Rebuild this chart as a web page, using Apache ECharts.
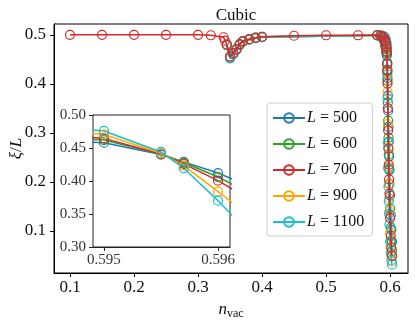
<!DOCTYPE html>
<html>
<head>
<meta charset="utf-8">
<script src="https://cdn.jsdelivr.net/npm/echarts@6/dist/echarts.min.js"></script>
<style>
  html, body { margin: 0; padding: 0; background: #fff; }
  #chart { width: 415px; height: 320px; }
</style>
</head>
<body>
<div id="chart"></div>
<script>
// system sizes and colours
var sizes = [500, 600, 700, 900, 1100];
var colors = ['#1f77b4', '#2ca02c', '#d62728', '#ffa500', '#17becf'];

// wide scan, only L = 700
var nWide = [0.10, 0.15, 0.20, 0.25, 0.30, 0.32, 0.34, 0.342];
var yWide700 = [0.500, 0.500, 0.500, 0.500, 0.500, 0.499, 0.495, 0.488];

// dip around n = 0.35
var nDip = [0.345, 0.35, 0.355, 0.36, 0.365, 0.37, 0.38, 0.39, 0.40];
var yDip500 = [0.479, 0.452, 0.460, 0.469, 0.479, 0.486, 0.490, 0.493, 0.495];
var yDip600 = [0.480, 0.454, 0.462, 0.471, 0.480, 0.487, 0.491, 0.494, 0.496];
var yDip700 = [0.480, 0.456, 0.463, 0.471, 0.481, 0.487, 0.491, 0.494, 0.496];
var yDip900 = [0.480, 0.455, 0.462, 0.470, 0.480, 0.486, 0.490, 0.493, 0.495];
var yDip1100 = [0.479, 0.453, 0.461, 0.470, 0.480, 0.486, 0.490, 0.493, 0.495];

// plateau, only L = 700
var nFlat = [0.45, 0.50, 0.55];
var yFlat700 = [0.498, 0.499, 0.499];

// transition region
var nCrit = [0.580, 0.585, 0.588, 0.590, 0.592, 0.593, 0.594, 0.5945, 0.595, 0.5955, 0.5957,
             0.596, 0.5965, 0.597, 0.5975, 0.598, 0.5985, 0.599, 0.600, 0.601, 0.602, 0.603];
var yCrit500 = [0.499, 0.497, 0.494, 0.489, 0.480, 0.474, 0.466, 0.462, 0.458, 0.440, 0.429,
                0.412, 0.376, 0.345, 0.312, 0.282, 0.252, 0.224, 0.172, 0.132, 0.102, 0.078];
var yCrit600 = [0.499, 0.498, 0.496, 0.492, 0.486, 0.481, 0.473, 0.467, 0.462, 0.441, 0.428,
                0.406, 0.362, 0.325, 0.290, 0.256, 0.226, 0.196, 0.146, 0.106, 0.079, 0.059];
var yCrit700 = [0.499, 0.498, 0.497, 0.494, 0.489, 0.485, 0.477, 0.471, 0.4646, 0.441, 0.426,
                0.4005, 0.350, 0.305, 0.268, 0.235, 0.205, 0.176, 0.126, 0.090, 0.066, 0.049];
var yCrit900 = [0.499, 0.499, 0.498, 0.496, 0.492, 0.489, 0.483, 0.478, 0.4707, 0.442, 0.4232,
                0.3838, 0.318, 0.270, 0.231, 0.196, 0.166, 0.140, 0.096, 0.067, 0.049, 0.037];
var yCrit1100 = [0.499, 0.499, 0.498, 0.497, 0.495, 0.492, 0.487, 0.483, 0.4758, 0.444, 0.4192,
                 0.3702, 0.280, 0.228, 0.190, 0.160, 0.135, 0.113, 0.078, 0.055, 0.040, 0.031];

// tick labels
var mainXTicks = [0.1, 0.2, 0.3, 0.4, 0.5, 0.6];
var mainYTicks = [0.1, 0.2, 0.3, 0.4, 0.5];
var insetXTicks = [0.595, 0.596];
var insetYTicks = [0.30, 0.35, 0.40, 0.45, 0.50];

function pairs(xs, ys) {
    var out = [];
    for (var i = 0; i < xs.length; i++) out.push([xs[i], ys[i]]);
    return out;
}

var allData = [
    pairs(nDip, yDip500).concat(pairs(nCrit, yCrit500)),
    pairs(nDip, yDip600).concat(pairs(nCrit, yCrit600)),
    pairs(nWide, yWide700).concat(pairs(nDip, yDip700), pairs(nFlat, yFlat700), pairs(nCrit, yCrit700)),
    pairs(nDip, yDip900).concat(pairs(nCrit, yCrit900)),
    pairs(nDip, yDip1100).concat(pairs(nCrit, yCrit1100))
];

var FONT = 'Liberation Serif';
var TXT = '#111';

function makeSeries(i, axisIdx) {
    var z = 3;
    if (axisIdx === 0 && i === 2) z = 4;   // red scan drawn on top in the main panel
    if (axisIdx === 1) z = 7;              // above the inset background
    return {
        name: 'L = ' + sizes[i],
        type: 'line',
        xAxisIndex: axisIdx,
        yAxisIndex: axisIdx,
        data: allData[i],
        symbol: 'circle',
        symbolSize: 9,
        z: z,
        itemStyle: { color: 'rgba(255,255,255,0)', borderColor: colors[i], borderWidth: 1.2 },
        lineStyle: { color: colors[i], width: 1.5 },
        emphasis: { disabled: true },
        animation: false
    };
}

var series = [];
for (var i = 0; i < sizes.length; i++) series.push(makeSeries(i, 0));
for (var j = 0; j < sizes.length; j++) series.push(makeSeries(j, 1));

var myChart = echarts.init(document.getElementById('chart'));

var option = {
    backgroundColor: '#fff',
    animation: false,
    title: {
        text: 'Cubic',
        left: 231,
        top: 2,
        textAlign: 'center',
        textStyle: { fontFamily: FONT, fontSize: 17, fontWeight: 'normal', color: TXT }
    },
    legend: {
        data: sizes.map(function (s) { return 'L = ' + s; }),
        orient: 'vertical',
        left: 267,
        top: 103,
        itemWidth: 32,
        itemHeight: 12,
        itemGap: 10,
        padding: [7, 8, 6, 5],
        borderColor: '#cccccc',
        borderWidth: 1,
        borderRadius: 3,
        backgroundColor: 'rgba(255,255,255,0.8)',
        formatter: function (name) {
            return '{i|L}' + name.slice(1);
        },
        textStyle: {
            fontFamily: FONT, fontSize: 16, color: TXT, padding: [0, 0, 0, -3],
            rich: { i: { fontFamily: FONT, fontSize: 16, fontStyle: 'italic', color: TXT } }
        }
    },
    grid: [
        { left: 54, top: 24, right: 7, bottom: 47, outerBoundsMode: 'none', containLabel: false,
          show: true, borderColor: '#000', borderWidth: 1 },
        { left: 93, top: 115, width: 137, height: 132, outerBoundsMode: 'none', containLabel: false,
          show: true, borderColor: '#222', borderWidth: 1, backgroundColor: '#fff', z: 5 }
    ],
    xAxis: [
        {
            type: 'value', gridIndex: 0, min: 0.075, max: 0.628,
            name: '{i|n}{s|vac}', nameLocation: 'middle', nameGap: 22,
            nameTextStyle: {
                fontFamily: FONT, fontSize: 17, color: TXT,
                rich: {
                    i: { fontFamily: FONT, fontSize: 17, fontStyle: 'italic', color: TXT },
                    s: { fontFamily: FONT, fontSize: 12, color: TXT, padding: [8, 0, 0, 0] }
                }
            },
            axisLine: { show: true, lineStyle: { color: '#000', width: 1 } },
            axisTick: { show: true, length: 4, customValues: mainXTicks, lineStyle: { color: '#000' } },
            axisLabel: { customValues: mainXTicks, margin: 6, fontFamily: FONT, fontSize: 17, color: TXT,
                formatter: function (v) { return v.toFixed(1); } },
            splitLine: { show: false }
        },
        {
            type: 'value', gridIndex: 1, min: 0.594904, max: 0.596105,
            axisLine: { show: true, lineStyle: { color: '#222', width: 1 } },
            axisTick: { show: true, length: 4, customValues: insetXTicks, lineStyle: { color: '#222' } },
            axisLabel: { customValues: insetXTicks, margin: 6, fontFamily: FONT, fontSize: 15, color: '#333',
                formatter: function (v) { return v.toFixed(3); } },
            splitLine: { show: false }
        }
    ],
    yAxis: [
        {
            type: 'value', gridIndex: 0, min: 0.014, max: 0.522,
            name: '{i|ξ}/{i|L}', nameLocation: 'middle', nameGap: 29, nameMoveOverlap: false,
            nameTextStyle: {
                fontFamily: FONT, fontSize: 17, color: TXT,
                rich: { i: { fontFamily: FONT, fontSize: 17, fontStyle: 'italic', color: TXT } }
            },
            axisLine: { show: true, lineStyle: { color: '#000', width: 1 } },
            axisTick: { show: true, length: 4, customValues: mainYTicks, lineStyle: { color: '#000' } },
            axisLabel: { customValues: mainYTicks, margin: 8, fontFamily: FONT, fontSize: 17, color: TXT,
                formatter: function (v) { return v.toFixed(1); } },
            splitLine: { show: false }
        },
        {
            type: 'value', gridIndex: 1, min: 0.30, max: 0.50,
            axisLine: { show: true, lineStyle: { color: '#222', width: 1 } },
            axisTick: { show: true, length: 4, customValues: insetYTicks, lineStyle: { color: '#222' } },
            axisLabel: { customValues: insetYTicks, margin: 7, fontFamily: FONT, fontSize: 15, color: '#333',
                formatter: function (v) { return v.toFixed(2); } },
            splitLine: { show: false }
        }
    ],
    series: series
};

myChart.setOption(option);
</script>
</body>
</html>
